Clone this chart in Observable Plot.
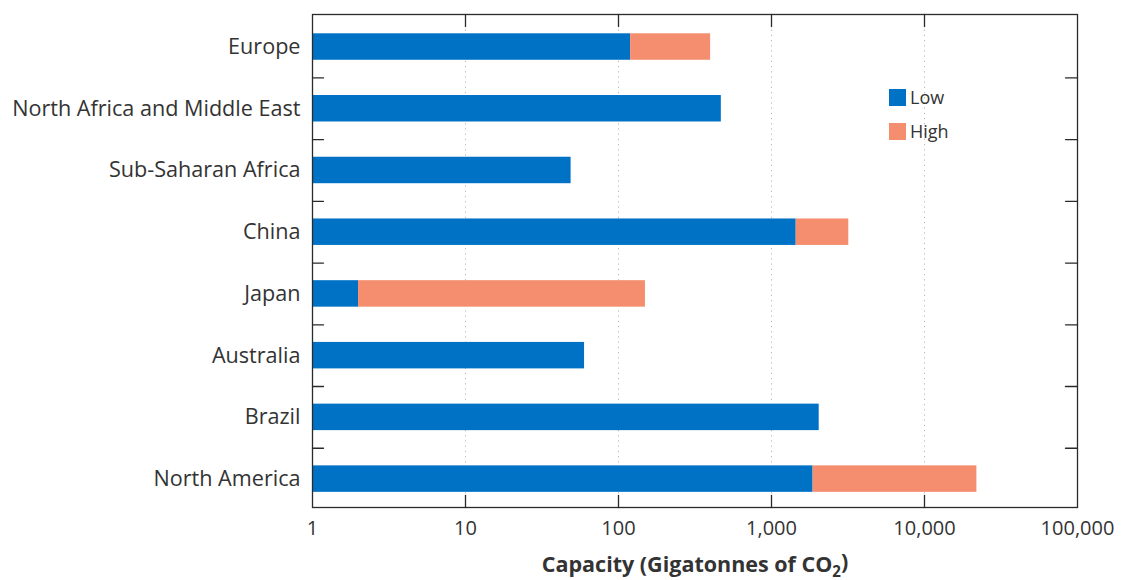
<!DOCTYPE html>
<html><head><meta charset="utf-8">
<script src="https://cdn.jsdelivr.net/npm/d3@7"></script>
<script src="https://cdn.jsdelivr.net/npm/@observablehq/plot@0.6"></script>
<style>
body{margin:0;background:#fff;font-family:"Open Sans",sans-serif;}
#wrap{position:relative;width:1133px;height:580px;}
#legend{position:absolute;left:889px;top:80px;font-size:18px;color:#333;}
.item{display:flex;align-items:center;height:34px;}
.sw{width:17px;height:17px;margin-right:4px;}
</style></head><body>
<div id="wrap"><div id="legend"></div></div>
<script>
const categories = ["Europe", "North Africa and Middle East", "Sub-Saharan Africa", "China", "Japan", "Australia", "Brazil", "North America"];
const lowValues  = [120, 470, 49, 1450, 2, 60, 2050, 1870];
const highValues = [400, null, null, 3200, 150, null, null, 22000];
const xTicks = [1, 10, 100, 1000, 10000, 100000];
const gridTicks = [10, 100, 1000, 10000];
const seriesNames = ["Low", "High"];
const seriesColors = ["#0072c6", "#f48e6e"];
const xLabel = "Capacity (Gigatonnes of CO";
const xLabelSub = "2";

const lowRows = categories.map((c, i) => ({region: c, from: 1, to: lowValues[i]}));
const highRows = categories.map((c, i) => ({region: c, from: lowValues[i], to: highValues[i]})).filter(d => d.to != null);

const W = 1133, H = 580, mt = 14, mb = 73, ml = 312, mr = 56;
const padIn = 0.571, padOut = 0.279, align = 0.56;
const step = (H - mt - mb) / (categories.length - padIn + 2 * padOut);
const tickLine = {draw(ctx, l) { ctx.moveTo(0, 0); ctx.lineTo(0, -l); }};
const ink = "#2a2a2a";

const chart = Plot.plot({
  width: W, height: H,
  marginTop: mt, marginBottom: mb, marginLeft: ml, marginRight: mr,
  style: {fontFamily: "'Open Sans', sans-serif", color: "#333", background: "#fff"},
  x: {type: "log", domain: [1, 100000]},
  y: {domain: categories, paddingInner: padIn, paddingOuter: padOut, align: align, round: false},
  marks: [
    Plot.gridX(gridTicks, {stroke: "#999", strokeOpacity: 0.7, strokeDasharray: "1.2,4"}),
    Plot.barX(lowRows, {y: "region", x1: "from", x2: "to", fill: seriesColors[0]}),
    Plot.barX(highRows, {y: "region", x1: "from", x2: "to", fill: seriesColors[1]}),
    Plot.axisX({ticks: xTicks, tickSize: 0, tickPadding: 13, tickFormat: d3.format(","), fontSize: 20, label: null}),
    Plot.axisY({tickSize: 0, tickPadding: 12, fontSize: 21.6, label: null}),
    Plot.vector(gridTicks, {x: d => d, frameAnchor: "bottom", length: 12, rotate: 0, anchor: "start", shape: tickLine, stroke: ink, strokeWidth: 1.3}),
    Plot.vector(gridTicks, {x: d => d, frameAnchor: "top", length: 12, rotate: 180, anchor: "start", shape: tickLine, stroke: ink, strokeWidth: 1.3}),
    Plot.vector(categories.slice(0, -1), {y: d => d, dy: step / 2, frameAnchor: "left", length: 11, rotate: 90, anchor: "start", shape: tickLine, stroke: ink, strokeWidth: 1.3}),
    Plot.vector(categories.slice(0, -1), {y: d => d, dy: step / 2, frameAnchor: "right", length: 12, rotate: -90, anchor: "start", shape: tickLine, stroke: ink, strokeWidth: 1.3}),
    Plot.frame({stroke: ink, strokeWidth: 1.3}),
    Plot.text([xLabel], {text: d => d, frameAnchor: "bottom", dy: 64, fontSize: 21.5, fontWeight: "bold", fill: "#333", className: "xlabel"})
  ]
});
document.getElementById("wrap").prepend(chart);

// subscript for CO2
const t = d3.select(chart).select(".xlabel text");
if (!t.empty()) {
  t.text(null);
  t.append("tspan").text(xLabel);
  t.append("tspan").attr("font-size", "0.7em").attr("dy", "0.35em").text(xLabelSub);
  t.append("tspan").attr("dy", "-0.35em").text(")");
}

const legend = d3.select("#legend");
seriesNames.forEach((n, i) => {
  const it = legend.append("div").attr("class", "item");
  it.append("div").attr("class", "sw").style("background", seriesColors[i]);
  it.append("span").text(n);
});
</script>
</body></html>
